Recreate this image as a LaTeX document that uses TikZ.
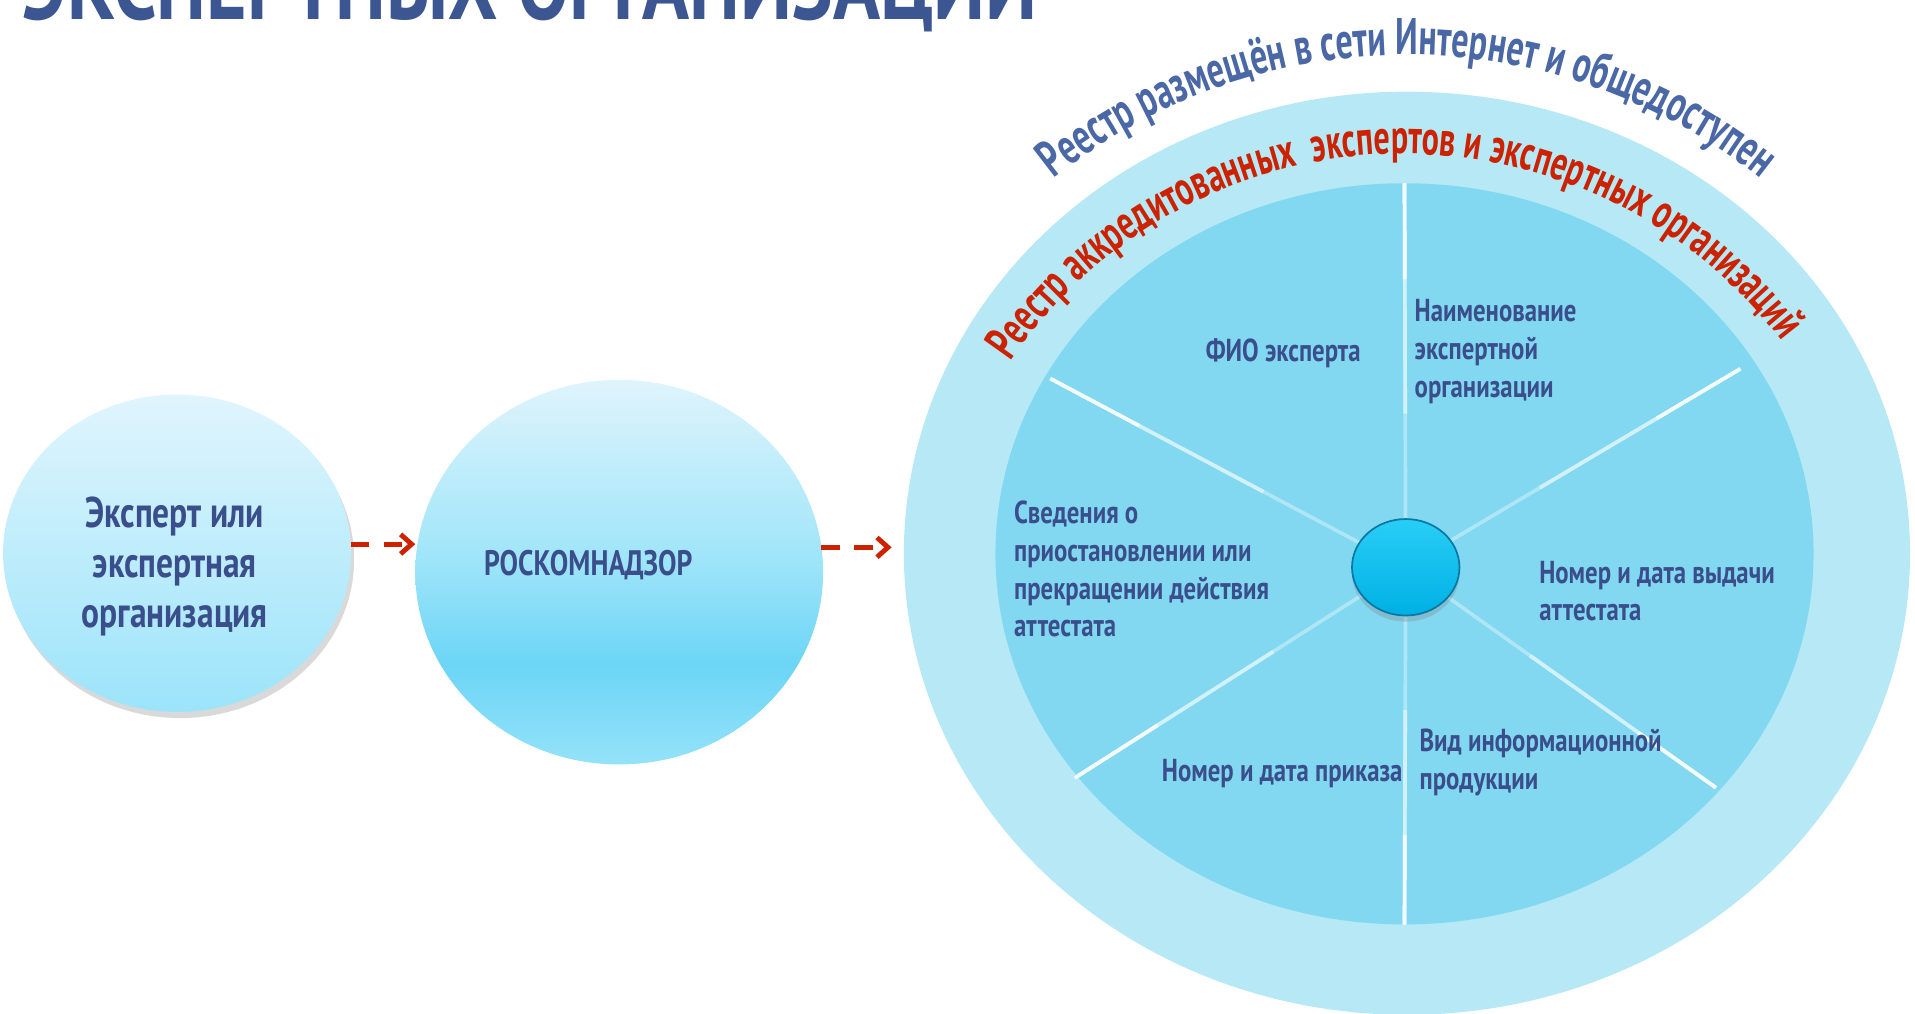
\documentclass[tikz,border=0pt]{standalone}
\usepackage{fontspec}
\setmainfont{PT Sans}[FakeStretch=0.78]
\newfontfamily\bogenschrift{PT Sans}[FakeStretch=0.66]
\usetikzlibrary{shapes.geometric}
\usetikzlibrary{arrows,arrows.meta}
\usetikzlibrary{calc, shadows, decorations.text}
\definecolor{titelblau}{RGB}{60,86,146}
\definecolor{textblau}{RGB}{58,78,140}
\definecolor{bogenblau}{RGB}{74,104,166}
\definecolor{pfeilrot}{RGB}{204,34,0}
\definecolor{ring}{RGB}{182,232,246}
\definecolor{rad}{RGB}{130,216,240}
\definecolor{kugel}{RGB}{0,176,228}
\definecolor{kugelhell}{RGB}{40,206,246}
\definecolor{kugelrand}{RGB}{10,120,165}
\definecolor{blasehell}{RGB}{224,245,253}
\definecolor{blase}{RGB}{156,228,250}
\definecolor{rknoben}{RGB}{223,244,252}
\definecolor{rknmitte}{RGB}{160,229,249}
\definecolor{rkntief}{RGB}{108,213,246}
\definecolor{rknunten}{RGB}{148,226,249}
\pgfdeclareverticalshading{rknschatt}{100bp}{color(0bp)=(rknunten); color(25bp)=(rknunten);
    color(38bp)=(rkntief); color(52bp)=(rknmitte); color(75bp)=(rknoben); color(100bp)=(rknoben)}
\newcommand{\speiche}[1]{
    % #1 = punkt am rand
    \draw[speiche, white!35!rad] (mitte) -- (#1);
    \draw[speiche, white!65!rad] ($(mitte)!0.4!(#1)$) -- (#1);
    \draw[speiche, white!90!rad] ($(mitte)!0.75!(#1)$) -- (#1);
}

\begin{document}
\begin{tikzpicture}[x=0.02cm, y=0.02cm,
    oval/.style={ellipse, inner sep=0pt, outer sep=0pt},
    schrift/.style={text=textblau, inner sep=0pt, font=\bfseries\fontsize{14.8}{17.6}\selectfont, align=left},
    flow/.style={draw=pfeilrot, line width=0.08cm, dash pattern=on 0.3cm off 0.24cm,
        -{Straight Barb[length=0.18cm, width=0.32cm]}},
    speiche/.style={line width=0.06cm}]

    \clip (0,0) rectangle (1568,830);

    % ueberschrift, oben abgeschnitten
    \node[anchor=base west, inner sep=0pt, text=titelblau, font=\bfseries\fontsize{46.5}{46.5}\selectfont]
        (titel) at (18,814) {ЭКСПЕРТНЫХ ОРГАНИЗАЦИЙ};

    % linke seite
    \node[oval, minimum width=5.7cm, minimum height=5.2cm, top color=blasehell, bottom color=blase,
        drop shadow={shadow xshift=0.05cm, shadow yshift=-0.1cm, opacity=0.3}]
        (experte) at (145,377) {};
    \node[schrift, align=center, font=\bfseries\fontsize{20}{23.3}\selectfont] (experte-text)
        at (143,366) {Эксперт или\\экспертная\\организация};

    \node[oval, minimum width=6.68cm, minimum height=6.3cm, shading=rknschatt] (rkn) at (507,361.5) {};
    \node[schrift, anchor=west, font=\bfseries\fontsize{16.5}{20}\selectfont] (rkn-text) at (396,367) {РОСКОМНАДЗОР};

    % reestr
    \node[oval, minimum width=16.48cm, minimum height=15.12cm, fill=ring] (reestr) at (1152,377) {};
    \node[oval, minimum width=13.4cm, minimum height=12.14cm, fill=rad] (rad) at (1150,376.5) {};

    \draw[flow] (experte.3) -- (experte.3 -| rkn.west);
    \draw[flow, shorten >=0.2cm] (rkn.7) -- (rkn.7 -| reestr.west);

    \coordinate (mitte) at (1151,365.5);
    \coordinate (rand-o) at (1150,680);
    \coordinate (rand-u) at (1150,73);
    \coordinate (rand-lo) at (860,520);
    \coordinate (rand-ro) at (1425,528);
    \coordinate (rand-lu) at (880,193);
    \coordinate (rand-ru) at (1405,185);

    \speiche{rand-o}
    \speiche{rand-u}
    \speiche{rand-lo}
    \speiche{rand-ro}
    \speiche{rand-lu}
    \speiche{rand-ru}

    \node[oval, minimum width=1.76cm, minimum height=1.58cm, top color=kugelhell, bottom color=kugel,
        draw=kugelrand, line width=0.8pt,
        drop shadow={shadow xshift=0cm, shadow yshift=-0.1cm, opacity=0.3}] (nabe) at (mitte) {};

    % texte im rad
    \node[schrift, anchor=west] (fio) at (987,541) {ФИО эксперта};
    \node[schrift, anchor=west] (name) at (1158,542) {Наименование\\экспертной\\организации};
    \node[schrift, anchor=west] (svedenia) at (830,364) {Сведения о\\приостановлении или\\прекращении действия\\аттестата};
    \node[schrift, anchor=west] (attestat) at (1260,346) {Номер и дата выдачи\\аттестата};
    \node[schrift, anchor=west] (prikaz) at (951,197) {Номер и дата приказа};
    \node[schrift, anchor=west] (vid) at (1162,205.5) {Вид информационной\\продукции};

    % texte auf dem bogen
    \path[decorate, decoration={text along path, text align=center,
        text={|\bogenschrift\bfseries\fontsize{24}{24}\selectfont\color{bogenblau}|Реестр размещён в сети Интернет и общедоступен}}]
        (1152,321) ++(130:464) arc[start angle=130, end angle=50, radius=464];
    \path[decorate, decoration={text along path, text align=center,
        text={|\bogenschrift\bfseries\fontsize{22.6}{22.6}\selectfont\color{pfeilrot}|Реестр аккредитованных{\ }{\ }экспертов и экспертных организаций}}]
        (1149,314) ++(147:390) arc[start angle=147, end angle=36, radius=390];

\end{tikzpicture}
\end{document}
